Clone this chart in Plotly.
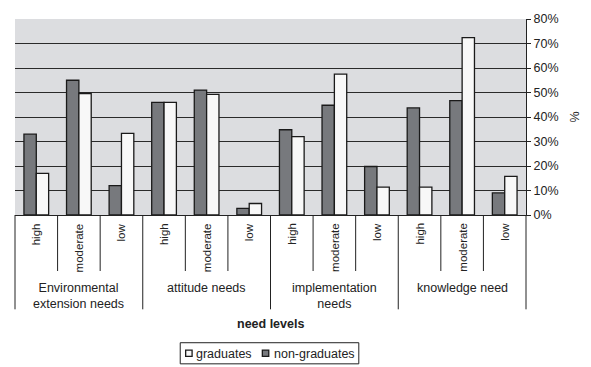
import plotly.graph_objects as go

groups = ["Environmental<br>extension needs", "attitude needs", "implementation<br>needs", "knowledge need"]
levels = ["high", "moderate", "low"]
non_graduates = [33, 55, 12, 46, 51, 2.7, 34.8, 44.8, 19.8, 43.7, 46.7, 9.0]
graduates = [17, 49.6, 33.3, 46, 49.2, 4.7, 32, 57.5, 11.4, 11.4, 72.4, 15.8]
legend_order = ["graduates", "non-graduates"]

n = len(groups) * len(levels)
xs = list(range(n))
level_labels = [lv for g in groups for lv in levels]

FONT = "Liberation Sans, Arial, sans-serif"
DARK = "#77797d"
LIGHT = "#f8f8f8"
EDGE = "#1a1a1a"

# pixel geometry of the plot area (for placing the hand-drawn legend)
W, H = 591, 367
ML, MR, MT, MB = 14.5, 60, 15.5, 152
PW, PH = W - ML - MR, H - MT - MB


def px(xp):
    return (xp - ML) / PW


def py(yp):
    return (H - MB - yp) / PH


fig = go.Figure()
fig.add_trace(go.Bar(x=xs, y=non_graduates, name="non-graduates", showlegend=False,
                     marker=dict(color=DARK, line=dict(color=EDGE, width=1.3))))
fig.add_trace(go.Bar(x=xs, y=graduates, name="graduates", showlegend=False,
                     marker=dict(color=LIGHT, line=dict(color=EDGE, width=1.3))))

shapes = []
annotations = []
# level labels and short dividers
for i, lab in enumerate(level_labels):
    annotations.append(dict(x=i, y=0, xref="x", yref="paper", text=lab, textangle=-90,
                            showarrow=False, yanchor="top", xanchor="center", yshift=-6,
                            font=dict(size=11.5, color="#222", family=FONT)))
for i in range(n + 1):
    long = (i % len(levels) == 0)
    shapes.append(dict(type="line", xref="paper", yref="paper", x0=i / n, x1=i / n,
                       y0=0, y1=py(311 if long else 272),
                       line=dict(color="#222", width=1)))
for g, name in enumerate(groups):
    annotations.append(dict(x=g * len(levels) + (len(levels) - 1) / 2, y=0, xref="x", yref="paper",
                            text=name, showarrow=False, yanchor="top", xanchor="center", yshift=-64,
                            font=dict(size=12.5, color="#222", family=FONT)))
annotations.append(dict(x=0.5, y=0, xref="paper", yref="paper", text="<b>need levels</b>",
                        showarrow=False, yanchor="middle", xanchor="center", yshift=-109,
                        font=dict(size=12.5, color="#222", family=FONT)))

# legend (drawn by hand to match the compact box)
shapes.append(dict(type="rect", xref="paper", yref="paper", x0=px(181.5), x1=px(362),
                   y0=py(345), y1=py(366.5), line=dict(color="#222", width=1), fillcolor="white"))
leg_items = [(legend_order[0], LIGHT, 187, 195.5), (legend_order[1], DARK, 264.5, 274)]
for name, col, sx, tx in leg_items:
    shapes.append(dict(type="rect", xref="paper", yref="paper", x0=px(sx), x1=px(sx + 6.5),
                       y0=py(352.5), y1=py(359), line=dict(color=EDGE, width=1.3), fillcolor=col))
    annotations.append(dict(x=px(tx), y=py(356), xref="paper", yref="paper", text=name,
                            showarrow=False, xanchor="left", yanchor="middle",
                            font=dict(size=12.5, color="#222", family=FONT)))

fig.update_layout(
    width=W, height=H,
    margin=dict(l=ML, r=MR, t=MT, b=MB),
    paper_bgcolor="white", plot_bgcolor="#dcdde0",
    barmode="group", bargap=0.42, bargroupgap=0,
    font=dict(family=FONT, size=12.5, color="#222"),
    showlegend=False,
    shapes=shapes, annotations=annotations,
    xaxis=dict(range=[-0.5, n - 0.5], showticklabels=False, ticks="", showgrid=False,
               showline=True, linecolor="#222", linewidth=1, zeroline=False, fixedrange=True),
    yaxis=dict(side="right", range=[0, 80], dtick=10, ticksuffix="%", showgrid=True,
               gridcolor="#2a2a2a", gridwidth=1, showline=True, linecolor="#222", linewidth=1,
               ticks="outside", ticklen=4, tickcolor="#222", zeroline=False,
               title=dict(text="%", standoff=12, font=dict(size=12.5, family=FONT))),
)

fig.write_html("out.html")
